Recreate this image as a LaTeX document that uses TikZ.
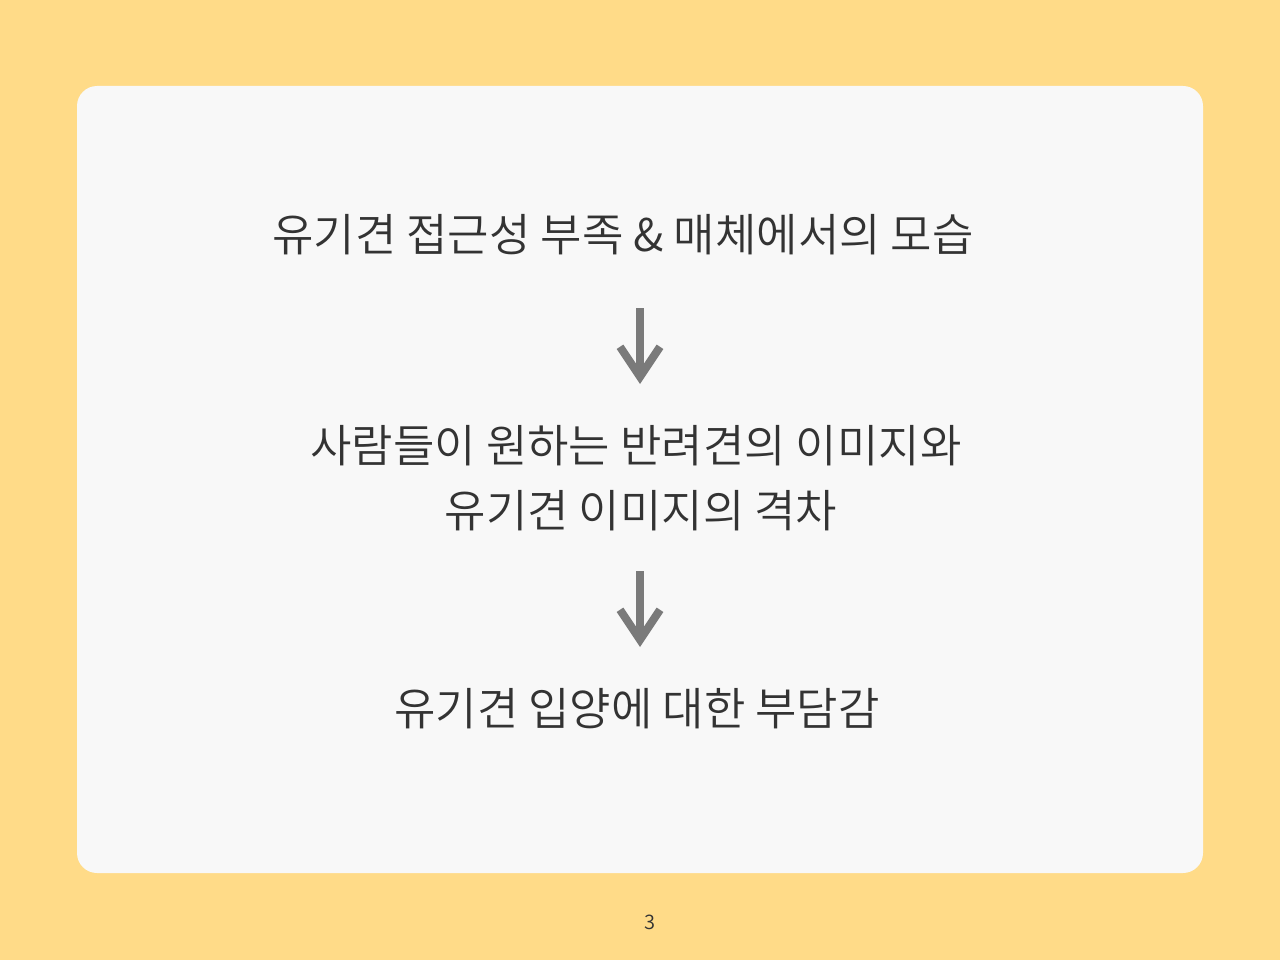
\documentclass[tikz,border=0pt]{standalone}
\usepackage{fontspec}
\setmainfont{Noto Sans CJK KR}[UprightFont={* DemiLight}]
\usetikzlibrary{arrows.meta}
\definecolor{bgyellow}{HTML}{FFDB88}
\definecolor{cardgray}{HTML}{F8F8F8}
\definecolor{inkgray}{HTML}{333333}
\definecolor{arrowgray}{HTML}{7A7A7A}
\tikzstyle{card} = [fill=cardgray, rounded corners=20pt]
\tikzstyle{line} = [font=\fontsize{45}{65}\selectfont, text=inkgray, align=center, inner sep=0pt]
\tikzstyle{pagenum} = [font=\fontsize{20}{24}\selectfont, text=inkgray, inner sep=0pt]
\tikzstyle{arrow} = [draw=arrowgray, line width=8pt, -{Straight Barb[length=30pt,width=40pt]}]

\begin{document}
\begin{tikzpicture}[x=1pt,y=-1pt]
%배경과 카드
\fill[bgyellow] (0,0) rectangle (1280,960);
\useasboundingbox (0,0) rectangle (1280,960);
\fill[card] (77,86) rectangle (1203,873);
%문장
\node[line](t1) at (623,235){유기견 접근성 부족 \& 매체에서의 모습};
\node[line](t2) at (636,478){사람들이 원하는 반려견의 이미지와\\\hspace*{10pt}유기견 이미지의 격차};
\node[line](t3) at (637,709){유기견 입양에 대한 부담감};
\node[pagenum](num) at (650,922){3};
\coordinate (axis) at (640,0);
%화살표
\draw [arrow, shorten <=73pt, shorten >=94pt] (t1 -| axis) -- (t2 -| axis);
\draw [arrow, shorten <=93pt, shorten >=62pt] (t2 -| axis) -- (t3 -| axis);
\end{tikzpicture}
\end{document}
